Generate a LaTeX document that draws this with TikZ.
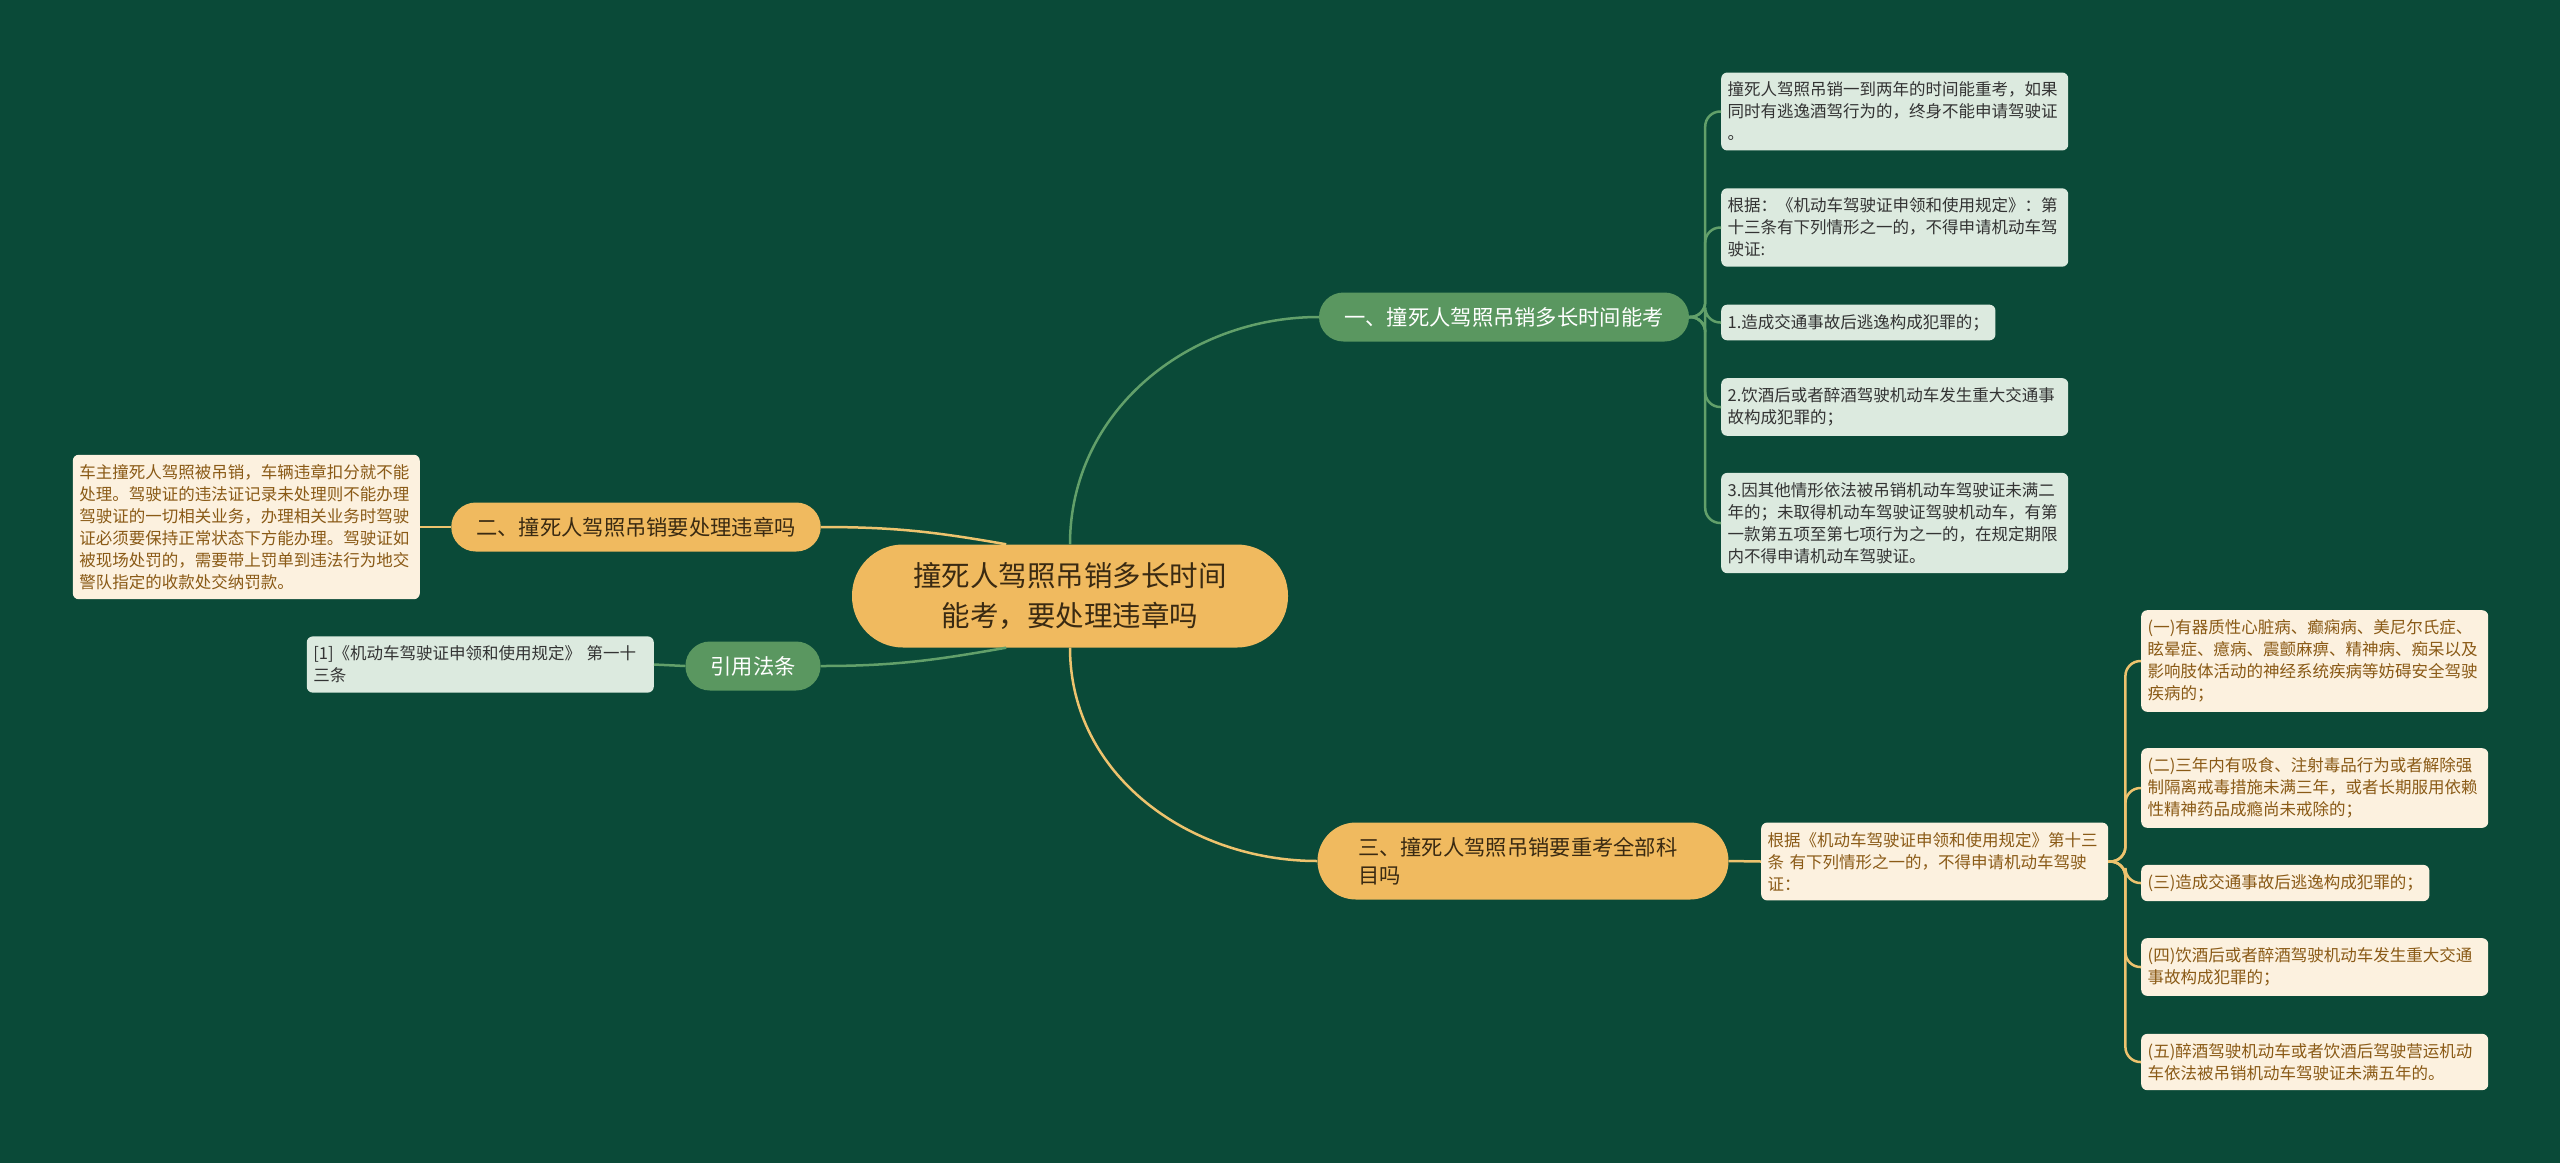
\documentclass[tikz,border=0pt]{standalone}
\usepackage{fontspec}
\setmainfont{Noto Sans CJK SC}
\usetikzlibrary{positioning}

\definecolor{bgGreen}{HTML}{0A4A38}
\definecolor{rootFill}{HTML}{F0BA5F}
\definecolor{greenFill}{HTML}{5A9760}
\definecolor{greenLeaf}{HTML}{DCEADF}
\definecolor{creamLeaf}{HTML}{FCF1DF}
\definecolor{greenLine}{HTML}{62A06A}
\definecolor{orangeLine}{HTML}{EDC36E}
\definecolor{darkText}{HTML}{3A2A12}
\definecolor{grayText}{HTML}{333333}
\definecolor{brownText}{HTML}{8A5A16}

\begin{document}
\begin{tikzpicture}[
  x=1pt, y=-1pt,
  topic/.style={rectangle, rounded corners=51, fill=rootFill, text=darkText,
                minimum width=436, minimum height=103, align=center,
                font=\fontsize{28.5}{40}\selectfont},
  gsub/.style={rectangle, rounded corners=24.5, fill=greenFill, text=white,
               minimum height=49, inner xsep=25, font=\fontsize{21.3}{28}\selectfont},
  osub/.style={gsub, fill=rootFill, text=darkText},
  gleaf/.style={rectangle, rounded corners=6, fill=greenLeaf, text=grayText,
                inner xsep=6.5, inner ysep=9.5, align=left,
                font=\fontsize{16.5}{22}\selectfont},
  oleaf/.style={gleaf, fill=creamLeaf, text=brownText},
  wide/.style={text width=334},
  glink/.style={draw=greenLine, line width=2.5},
  olink/.style={draw=orangeLine, line width=2.5}
]
\fill[bgGreen] (0,0) rectangle (2560,1163);
\useasboundingbox (0,0) rectangle (2560,1163);

% centre and main branches
\node[topic] (root) at (1070,596) {撞死人驾照吊销多长时间\\能考，要处理违章吗};
\node[gsub, minimum width=370] (b1) at (1504,317) {一、撞死人驾照吊销多长时间能考};
\node[osub, minimum width=369] (b2) at (636,527) {二、撞死人驾照吊销要处理违章吗};
\node[gsub, minimum width=135] (b3) at (753,666) {引用法条};
\node[osub, rounded corners=38.5, minimum height=77, text width=330, inner xsep=40.5,
      align=left] (b4) at (1523,861) {三、撞死人驾照吊销要重考全部科\\目吗};

% leaves of branch one
\node[gleaf, wide, anchor=west] (l1a) at (1721,111.5)
  {撞死人驾照吊销一到两年的时间能重考，如果\\同时有逃逸酒驾行为的，终身不能申请驾驶证\\。};
\node[gleaf, wide, anchor=west] (l1b) at (1721,227.5)
  {根据：《机动车驾驶证申领和使用规定》：第\\十三条有下列情形之一的，不得申请机动车驾\\驶证:};
\node[gleaf, anchor=west] (l1c) at (1721,322.5) {1.造成交通事故后逃逸构成犯罪的；};
\node[gleaf, wide, anchor=west] (l1d) at (1721,407)
  {2.饮酒后或者醉酒驾驶机动车发生重大交通事\\故构成犯罪的；};
\node[gleaf, wide, anchor=west] (l1e) at (1721,523)
  {3.因其他情形依法被吊销机动车驾驶证未满二\\年的；未取得机动车驾驶证驾驶机动车，有第\\一款第五项至第七项行为之一的，在规定期限\\内不得申请机动车驾驶证。};

% left leaves
\node[oleaf, wide, anchor=east] (l2) at (420,527)
  {车主撞死人驾照被吊销，车辆违章扣分就不能\\处理。驾驶证的违法证记录未处理则不能办理\\驾驶证的一切相关业务，办理相关业务时驾驶\\证必须要保持正常状态下方能办理。驾驶证如\\被现场处罚的，需要带上罚单到违法行为地交\\警队指定的收款处交纳罚款。};
\node[gleaf, wide, anchor=east] (l3) at (654,664.5)
  {[1]《机动车驾驶证申领和使用规定》 第一十\\三条};

% leaves of branch three
\node[oleaf, wide, anchor=west] (l4) at (1761,861.5)
  {根据《机动车驾驶证申领和使用规定》第十三\\条 有下列情形之一的，不得申请机动车驾驶\\证：};
\node[oleaf, wide, anchor=west] (l4a) at (2141,661)
  {(一)有器质性心脏病、癫痫病、美尼尔氏症、\\眩晕症、癔病、震颤麻痹、精神病、痴呆以及\\影响肢体活动的神经系统疾病等妨碍安全驾驶\\疾病的；};
\node[oleaf, wide, anchor=west] (l4b) at (2141,788)
  {(二)三年内有吸食、注射毒品行为或者解除强\\制隔离戒毒措施未满三年，或者长期服用依赖\\性精神药品成瘾尚未戒除的；};
\node[oleaf, anchor=west] (l4c) at (2141,883) {(三)造成交通事故后逃逸构成犯罪的；};
\node[oleaf, wide, anchor=west] (l4d) at (2141,967)
  {(四)饮酒后或者醉酒驾驶机动车发生重大交通\\事故构成犯罪的；};
\node[oleaf, wide, anchor=west] (l4e) at (2141,1062)
  {(五)醉酒驾驶机动车或者饮酒后驾驶营运机动\\车依法被吊销机动车驾驶证未满五年的。};

% centre to branches
\draw[glink] (root.north) to[out=90, in=180] (b1.west);
\draw[olink] (root.south) to[out=-90, in=180] (b4.west);
\draw[olink] (root.141) to[out=170, in=0] (b2.east);
\draw[glink] (root.219) to[out=190, in=0] (b3.east);

% branches to leaves
\foreach \leaf in {l1a,l1b,l1c,l1d,l1e}
  \draw[glink, rounded corners=15] (b1.east) -- ++(16,0) |- (\leaf.west);
\draw[olink] (b2.west) -- (l2.east);
\draw[glink] (b3.west) -- (l3.east);
\draw[olink] (b4.east) -- (l4.west);
\foreach \leaf in {l4a,l4b,l4c,l4d,l4e}
  \draw[olink, rounded corners=15] (l4.east) -- ++(17,0) |- (\leaf.west);

\end{tikzpicture}
\end{document}
